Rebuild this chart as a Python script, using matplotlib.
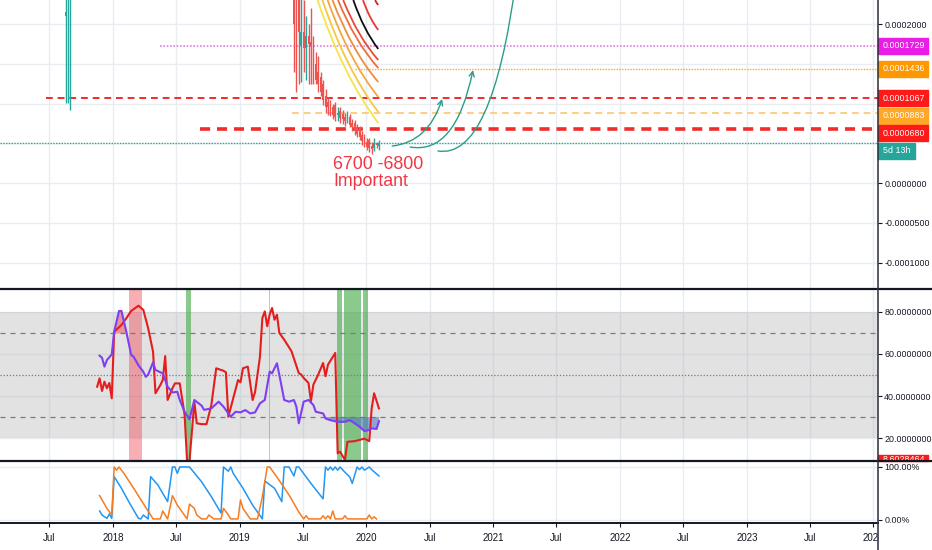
import numpy as np
import pandas as pd
import matplotlib
matplotlib.use('Agg')
import matplotlib.pyplot as plt
import matplotlib.dates as mdates
from matplotlib.patches import Rectangle, FancyArrowPatch, PathPatch
from matplotlib.path import Path
from matplotlib.lines import Line2D
from matplotlib.ticker import FixedLocator, FuncFormatter
from matplotlib.transforms import Bbox

W, H = 932, 550
TEAL = '#26a69a'
RED = '#ef5350'
PU = 1e-7  # candle prices are stored in units of 1e-7

# ---- weekly series, week index counted from the first indicator bar ----
week0 = '2017-11-16'

rsi_wk = [0, 1, 2, 3, 4, 5, 6, 7, 10, 12, 14, 17, 19, 21, 23, 24, 26, 27, 28, 29, 31, 32, 34, 36,
          37, 38, 40, 41, 43, 45, 47, 49, 52, 53, 54, 56, 58, 59, 60, 62, 64, 65, 67, 68, 69, 70,
          71, 72, 73, 74, 75, 77, 80, 83, 84, 85, 87, 88, 89, 91, 93, 94, 95, 98, 99, 100, 102,
          103, 106, 109, 110, 112, 113, 114, 116]
rsi_val = [44.4, 48.4, 42.4, 46.8, 43.7, 46.2, 38.9, 70.6, 73.8, 77.0, 80.5, 83.0, 81.0, 72.2,
           61.1, 41.3, 45.2, 47.6, 59.0, 38.1, 43.7, 46.0, 46.0, 31.0, 9.0, 9.0, 37.3, 27.0, 26.6,
           26.6, 35.7, 53.2, 52.0, 51.3, 30.1, 38.9, 47.6, 46.5, 53.2, 54.0, 38.1, 41.9, 58.6, 77.1,
           80.3, 73.2, 78.7, 81.9, 76.3, 78.7, 70.0, 66.8, 61.3, 50.9, 50.2, 48.6, 46.2, 37.5, 45.4,
           50.2, 55.7, 49.4, 54.9, 60.5, 12.7, 13.5, 9.5, 18.2, 18.5, 19.4, 19.7, 18.5, 34.1, 41.3,
           34.1]

ma_wk = [1, 2, 3, 4, 6, 7, 9, 10, 12, 14, 15, 17, 19, 20, 21, 23, 24, 26, 27, 29, 31, 33, 34, 36,
         38, 40, 43, 44, 47, 50, 52, 54, 55, 57, 59, 61, 63, 65, 67, 69, 71, 72, 74, 75, 77, 79,
         81, 82, 83, 85, 87, 89, 90, 93, 94, 96, 99, 102, 104, 106, 108, 110, 112, 113, 115, 116]
ma_val = [59.2, 58.2, 54.0, 57.1, 59.8, 70.6, 80.5, 80.5, 70.6, 59.5, 58.7, 54.6, 51.5, 49.1,
          50.2, 56.0, 52.4, 51.3, 50.8, 44.4, 41.7, 42.0, 38.1, 32.5, 28.9, 38.1, 35.4, 33.4, 34.1,
          37.3, 34.9, 31.7, 30.2, 32.5, 32.2, 33.3, 31.7, 32.2, 36.5, 38.1, 51.6, 50.8, 55.6, 50.0,
          38.1, 37.3, 38.1, 34.9, 27.0, 37.3, 38.1, 35.7, 32.5, 31.7, 29.3, 28.5, 27.7, 27.7, 28.5,
          27.0, 25.4, 23.3, 23.8, 24.6, 24.3, 28.0]

k_wk = [1, 2, 4, 5, 6, 7, 10, 13, 17, 18, 19, 21, 22, 25, 29, 31, 32, 33, 34, 38, 43, 47, 51, 52,
        54, 55, 56, 60, 64, 68, 69, 73, 76, 77, 79, 81, 82, 83, 88, 93, 94, 95, 96, 97, 98, 99,
        100, 102, 104, 105, 107, 108, 109, 110, 112, 113, 116]
k_val = [17, 9.4, 3, 11.3, 3, 81.7, 59.8, 34.6, 3, 2, 9.4, 2, 81.7, 66, 34.6, 100, 100, 88, 100,
         100, 72, 44, 13, 100, 92, 100, 88, 60, 28, 2, 73.6, 59.8, 34.6, 100, 100, 83, 100, 100,
         69, 40, 100, 94, 100, 94, 100, 94, 100, 90, 81, 69, 100, 95, 100, 94, 100, 95, 83]

d_wk = [1, 4, 6, 7, 8, 9, 11, 15, 19, 22, 23, 26, 27, 29, 31, 33, 37, 38, 40, 41, 43, 45, 46, 48,
        51, 52, 54, 55, 58, 59, 60, 63, 66, 68, 70, 71, 74, 79, 83, 85, 86, 87, 92, 93, 94, 95,
        96, 97, 98, 101, 102, 103, 111, 112, 113, 114, 115]
d_val = [46, 22, 9.4, 100, 94, 100, 88, 60, 31, 9.4, 2, 2, 17, 2, 46, 28, 2, 30, 22, 9.4, 2, 2,
         9.4, 2, 2, 22, 9.4, 2, 2, 38, 22, 2, 2, 44, 100, 100, 81, 47, 15, 2, 8, 2, 2, 8, 2, 8, 2,
         17, 2, 2, 8, 2, 2, 9.4, 2, 6, 2]

candle_wk = [-13, -12, -11] + list(range(81, 117))
candle_open = [2100, 2300, 2400,
               2450, 2350, 2300, 1740, 1900, 1700, 1850, 1780, 1800, 1500, 1400, 1330, 1250, 1100,
               1020, 1000, 950, 980, 850, 900, 870, 830, 800, 830, 760, 750, 700, 690, 600, 600,
               520, 540, 470, 440, 500, 470]
candle_close = [2150, 2500, 2600,
                2000, 1500, 1900, 1900, 1700, 1850, 1750, 1720, 1430, 1300, 1250, 1150, 1050, 950,
                960, 880, 850, 830, 880, 820, 800, 780, 850, 730, 700, 660, 620, 580, 530, 480,
                450, 440, 430, 500, 480, 500]
candle_high = [3000, 3000, 3000,
               2600, 2500, 2500, 2350, 2300, 2100, 2000, 2200, 1850, 1650, 1600, 1400, 1300, 1180,
               1080, 1050, 1000, 1020, 950, 950, 920, 880, 900, 870, 800, 790, 740, 720, 650, 620,
               560, 570, 520, 560, 520, 540]
candle_low = [1006, 1006, 918,
              1400, 1150, 1250, 1270, 1400, 1300, 1250, 1250, 1250, 1250, 1150, 1100, 980, 880,
              850, 840, 800, 780, 780, 750, 740, 720, 760, 700, 650, 600, 580, 540, 480, 450, 420,
              390, 370, 400, 440, 420]

# ---- horizontal levels drawn on the price pane ----
level_val = [1.729e-4, 1.436e-4, 1.067e-4, 0.883e-4, 0.680e-4]
level_start = ['2018-05-16', '2019-11-29', '2017-06-22', '2019-06-01', '2018-09-09']
level_label = ['0.0001729', '0.0001436', '0.0001067', '0.0000883', '0.0000680']
level_color = ['#e91ee6', '#ff9800', '#ff1a1a', '#ffa726', '#ff1a1a']
level_line = ['#e27be0', '#ffa726', '#f22b2b', '#ffcc80', '#f22b2b']
last_price = 0.503e-4

# ---- fan of curves (date where it leaves the top, value at its end) ----
fan_top = ['2019-08-13', '2019-08-27', '2019-09-11', '2019-09-25', '2019-10-11', '2019-10-26',
           '2019-11-24', '2019-12-22', '2020-01-26']
fan_end_val = [0.755e-4, 0.893e-4, 1.082e-4, 1.270e-4, 1.447e-4, 1.547e-4, 1.686e-4, 1.925e-4,
               2.239e-4]
fan_color = ['#f5e44b', '#f7c743', '#f6a640', '#f28c3c', '#ef6d3a', '#ea4a35', '#111111',
             '#e53935', '#c62828']
fan_end = '2020-02-04'

# ---- curved arrows: start, bend, end ----
arrow_pts = [
    [('2020-03-15', 0.465e-4), ('2020-06-27', 0.516e-4), ('2020-08-06', 1.057e-4)],
    [('2020-05-06', 0.453e-4), ('2020-09-13', 0.352e-4), ('2020-11-03', 1.421e-4)],
    [('2020-07-25', 0.403e-4), ('2020-12-28', 0.289e-4), ('2021-03-07', 2.554e-4)],
]

ob_spans = [('2018-02-16', '2018-03-26'), ('2019-03-27', '2019-03-30')]
os_spans = [('2018-07-30', '2018-08-14'), ('2019-10-08', '2019-10-23'),
            ('2019-10-29', '2019-12-17'), ('2019-12-22', '2020-01-06')]

plt.rcParams['font.family'] = ['Liberation Sans', 'DejaVu Sans']

d2n = lambda s: mdates.date2num(pd.Timestamp(s))
t0 = d2n(week0)
wk = lambda w: t0 + 7 * np.asarray(w, float)

fig = plt.figure(figsize=(W / 100, H / 100), dpi=100)
fx = lambda px: px / W
fy = lambda py: 1 - py / H

ax1 = fig.add_axes([0, fy(289), fx(878), 289 / H])
ax2 = fig.add_axes([0, fy(461), fx(878), 172 / H])
ax3 = fig.add_axes([0, fy(523), fx(878), 62 / H])

xmin, xmax = d2n('2017-02-09'), d2n('2024-01-14')
xticks = [d2n(f'{y}-{m:02d}-01') for y in range(2017, 2025) for m in (1, 7)]
xticks = [t for t in xticks if xmin < t < xmax]


def xfmt(v, pos):
    d = mdates.num2date(v)
    return str(d.year) if d.month == 1 else 'Jul'


for ax in (ax1, ax2, ax3):
    ax.set_xlim(xmin, xmax)
    for s in ax.spines.values():
        s.set_visible(False)
    ax.xaxis.set_major_locator(FixedLocator(xticks))
    ax.yaxis.tick_right()
    ax.grid(True, color='#e9edf2', lw=1)
    ax.set_axisbelow(True)
    ax.tick_params(axis='y', direction='out', length=3, width=0.8, pad=1.5,
                   labelsize=6.4, colors='#131722')
    ax.tick_params(axis='x', length=0, labelbottom=False)

ax3.tick_params(axis='x', direction='out', length=3, width=0.8, pad=4, labelbottom=True,
                labelsize=7, colors='#131722')
ax3.xaxis.set_major_formatter(FuncFormatter(xfmt))

# ---------------- price pane ----------------
ax1.set_ylim(-1.333e-4, 2.302e-4)
pticks = [-1e-4, -0.5e-4, 0, 0.5e-4, 1e-4, 1.5e-4, 2e-4]
ax1.yaxis.set_major_locator(FixedLocator(pticks))
ax1.yaxis.set_major_formatter(FuncFormatter(
    lambda v, p: '' if 0.4e-4 < v < 1.9e-4 else f'{v:.7f}'))

co = np.array(candle_open) * PU
cc = np.array(candle_close) * PU
ch = np.array(candle_high) * PU
cl = np.array(candle_low) * PU
cx = wk(candle_wk)
ccol = np.where(cc >= co, TEAL, RED)
ax1.vlines(cx, cl, ch, colors=ccol, lw=1, zorder=3)
ax1.bar(cx, np.maximum(np.abs(cc - co), 0.12e-5), bottom=np.minimum(co, cc), width=4.6,
        color=ccol, lw=0, zorder=3)

ax1.hlines(level_val[0], d2n(level_start[0]), xmax, colors=level_line[0], lw=1.2,
           linestyles=(0, (1, 1)))
ax1.hlines(level_val[1], d2n(level_start[1]), xmax, colors=level_line[1], lw=1,
           linestyles=(0, (1, 1)))
ax1.hlines(level_val[2], d2n(level_start[2]), xmax, colors=level_line[2], lw=1.4,
           linestyles=(0, (3.5, 2.5)))
ax1.hlines(level_val[3], d2n(level_start[3]), xmax, colors=level_line[3], lw=1.4,
           linestyles=(0, (3.5, 2.5)))
ax1.hlines(level_val[4], d2n(level_start[4]), xmax, colors=level_line[4], lw=2.6,
           linestyles=(0, (2.8, 1.9)))
ax1.axhline(last_price, color=TEAL, lw=1, ls=(0, (1, 1)))

ytop = ax1.get_ylim()[1]
xe = d2n(fan_end)
for d0, v1, col in zip(fan_top, fan_end_val, fan_color):
    x0 = d2n(d0)
    pts = [(x0, ytop), (x0 + 0.42 * (xe - x0), ytop + 0.62 * (v1 - ytop)), (xe, v1)]
    ax1.add_patch(PathPatch(Path(pts, [Path.MOVETO, Path.CURVE3, Path.CURVE3]),
                            fill=False, edgecolor=col, lw=1.3, zorder=4))

for i, pts in enumerate(arrow_pts):
    verts = [(d2n(d), v) for d, v in pts]
    style = '->' if i < 2 else '-'
    ax1.add_patch(FancyArrowPatch(path=Path(verts, [Path.MOVETO, Path.CURVE3, Path.CURVE3]),
                                  arrowstyle=style, mutation_scale=9, color='#2c9d86', lw=1,
                                  zorder=5))

ax1.text(d2n('2019-09-27'), 0.335e-4, '6700 -6800\nImportant', color='#f23645',
         fontsize=12.8, ha='left', va='top', linespacing=1.0, zorder=6)

# ---------------- oscillator pane ----------------
ax2.set_ylim(9.05, 90.95)
ax2.yaxis.set_major_locator(FixedLocator([20, 40, 60, 80]))
ax2.yaxis.set_major_formatter(FuncFormatter(lambda v, p: f'{v:.7f}'))
ax2.axhspan(20, 80, color='#a0a0a0', alpha=0.3, lw=0, zorder=1)
for lv, ls in ((70, (0, (4, 4))), (30, (0, (4, 4))), (50, (0, (1, 1.5)))):
    ax2.axhline(lv, color='#7a7a7a', lw=0.9, ls=ls, zorder=2)
for a, b in ob_spans:
    ax2.axvspan(d2n(a), d2n(b), color='#f23645', alpha=0.4, lw=0, zorder=1.5)
for a, b in os_spans:
    ax2.axvspan(d2n(a), d2n(b), color='#4caf50', alpha=0.65, lw=0, zorder=1.5)

mx = wk(ma_wk)
mv = np.array(ma_val)
ax2.fill_between(mx, mv, 30, where=mv < 30, interpolate=True, color='#4a72c4', alpha=0.55,
                 lw=0, zorder=2.5)
ax2.fill_between(mx, mv, 70, where=mv > 70, interpolate=True, color='#f23645', alpha=0.45,
                 lw=0, zorder=2.5)
ax2.plot(wk(rsi_wk), rsi_val, color='#e41e1e', lw=1.5, zorder=3)
ax2.plot(mx, mv, color='#7e3ff2', lw=1.5, zorder=3)

# ---------------- stochastic pane ----------------
ax3.set_ylim(-5.7, 111.3)
ax3.yaxis.set_major_locator(FixedLocator([0, 100]))
ax3.yaxis.set_major_formatter(FuncFormatter(lambda v, p: f'{v:.2f}%'))
ax3.plot(wk(k_wk), k_val, color='#2196f3', lw=1.1)
ax3.plot(wk(d_wk), d_val, color='#f57c22', lw=1.1)

# ---------------- price scale labels ----------------
fig.canvas.draw()
ys = [H - ax1.transData.transform((xmax, v))[1] for v in level_val]
for i in range(1, len(ys)):
    ys[i] = max(ys[i], ys[i - 1] + 17.5)
for py, txt, col in zip(ys, level_label, level_color):
    fig.add_artist(Rectangle((fx(878), fy(py + 8)), fx(50), 16 / H, color=col,
                             transform=fig.transFigure, zorder=4))
    fig.text(fx(883), fy(py), txt, color='white', fontsize=6.4, va='center', ha='left',
             zorder=5)
py = max(H - ax1.transData.transform((xmax, last_price))[1], ys[-1] + 17.5)
fig.add_artist(Rectangle((fx(878), fy(py + 8)), fx(37), 16 / H, color=TEAL,
                         transform=fig.transFigure, zorder=4))
fig.text(fx(883), fy(py), '5d 13h', color='white', fontsize=6.4, va='center', ha='left',
         zorder=5)

# clipped value tag of the oscillator
fig.add_artist(Rectangle((fx(878), fy(461)), fx(50), 6 / H, color='#ff1a1a',
                         transform=fig.transFigure, zorder=4))
tag = fig.text(fx(883), fy(460), '8.6028464', color='white', fontsize=6.4, va='center',
               ha='left', zorder=5)
tag.set_clip_box(Bbox([[878, H - 461], [928, H - 455]]))
tag.set_clip_on(True)

# frame lines
fig.add_artist(Rectangle((fx(879), 0), 1, fy(523), color='white',
                         transform=fig.transFigure, zorder=3))
for py, lw in ((289, 1.6), (461, 1.6)):
    fig.add_artist(Line2D([0, 1], [fy(py)] * 2, color='#131722', lw=lw, zorder=6))
fig.add_artist(Line2D([0, fx(878)], [fy(523)] * 2, color='#131722', lw=1.4, zorder=6))
fig.add_artist(Line2D([fx(878)] * 2, [0, 1], color='#2a2e39', lw=1.1, zorder=6))

fig.savefig('out.png', dpi=100, facecolor='white')
